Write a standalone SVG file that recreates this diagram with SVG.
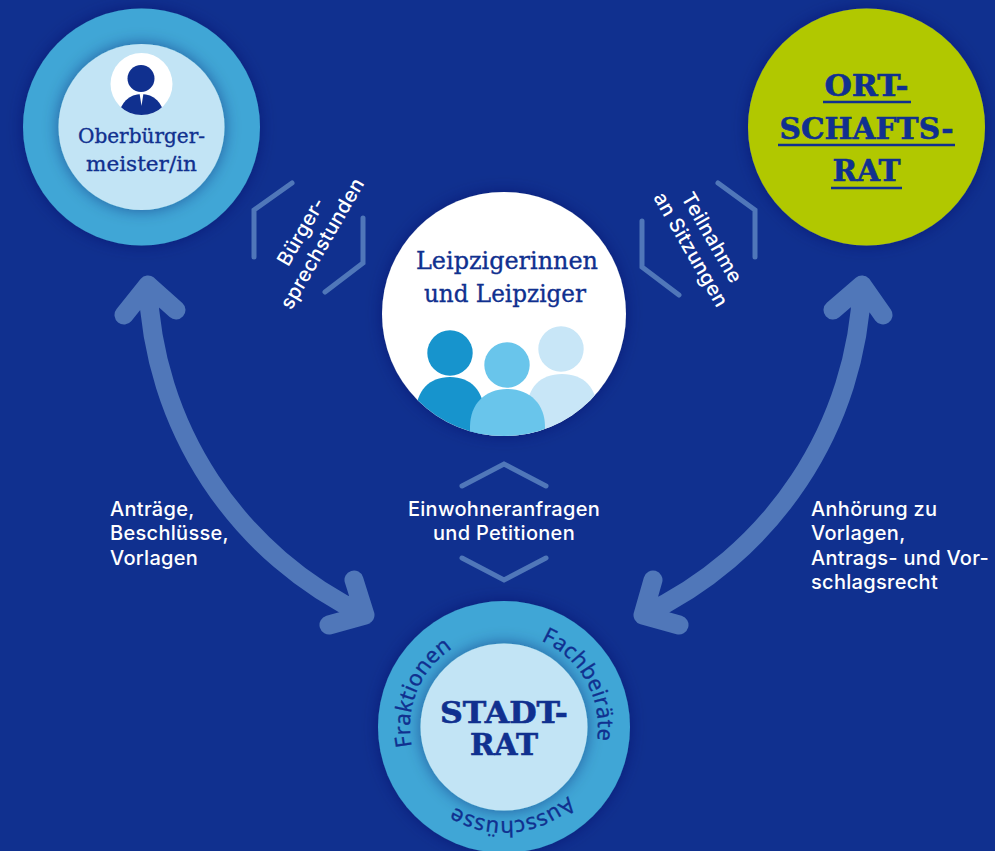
<svg xmlns="http://www.w3.org/2000/svg" width="995" height="851" viewBox="0 0 995 851">
<defs>
<style>
.serif{font-family:"DejaVu Serif","Liberation Serif",serif;fill:#10308f;text-anchor:middle}
.med{stroke:#10308f;stroke-width:.35px}
.heavy{font-weight:700;stroke:#10308f;stroke-width:.6px}
.lab{font-family:Inter,"Liberation Sans",Arial,sans-serif;font-size:20px;font-weight:500;letter-spacing:.3px;fill:#fff}
.mid{text-anchor:middle}
.ring{font-family:"Noto Sans","Open Sans",sans-serif;font-size:22px;fill:#10308f;stroke:#10308f;stroke-width:.3px;letter-spacing:.2px}
.br{fill:none;stroke:#5077b9;stroke-width:5;stroke-linecap:round;stroke-linejoin:miter}
.arr{fill:none;stroke:#5077b9;stroke-width:19;stroke-linecap:round;stroke-linejoin:round}
.ul{stroke:#10308f;stroke-width:2.5}
</style>
<filter id="sh" x="-30%" y="-30%" width="160%" height="160%"><feDropShadow dx="0" dy="0" stdDeviation="8" flood-color="#061a5c" flood-opacity=".45"/></filter>
<clipPath id="cpW"><circle cx="141.5" cy="84" r="31"/></clipPath>
<clipPath id="cpL"><circle cx="504" cy="314" r="122"/></clipPath>
<path id="ringp" d="M504 633A94 94 0 1 1 503.9 633"/>
</defs>
<rect width="995" height="851" fill="#10308f"/>
<g id="connectors">
<path class="arr" d="M148 285A380 380 0 0 0 365 615M124 315L148 285L176 310M329 625L365 615L354 580"/>
<path class="arr" d="M862 285A380 380 0 0 1 643 615M833 310L862 285L883 315M679 625L643 615L653 580"/>
<path class="br" d="M292 183L254 210V257M363 218V263L325 292"/>
<path class="br" d="M718 183L755 210V257M642 221V267L679 295"/>
<path class="br" d="M462 486L504 464L546 486M462 558L504 580L546 558"/>
</g>
<g id="label-buerger">
<text class="lab mid" transform="translate(307 235) rotate(-60)">Bürger-</text>
<text class="lab mid" transform="translate(328 247) rotate(-60)">sprechstunden</text>
</g>
<g id="label-teilnahme">
<text class="lab mid" transform="translate(706 241) rotate(60)">Teilnahme</text>
<text class="lab mid" transform="translate(685 253) rotate(60)">an Sitzungen</text>
</g>
<g id="label-antraege">
<text class="lab" x="110" y="516">Anträge,</text>
<text class="lab" x="110" y="540">Beschlüsse,</text>
<text class="lab" x="110" y="565">Vorlagen</text>
</g>
<g id="label-einwohner">
<text class="lab mid" x="504" y="516">Einwohneranfragen</text>
<text class="lab mid" x="504" y="540">und Petitionen</text>
</g>
<g id="label-anhoerung">
<text class="lab" x="811" y="516">Anhörung zu</text>
<text class="lab" x="811" y="540">Vorlagen,</text>
<text class="lab" x="811" y="565">Antrags- und Vor-</text>
<text class="lab" x="811" y="589">schlagsrecht</text>
</g>
<g id="node-ob">
<circle cx="141.5" cy="127" r="118.5" fill="#40a6d6" filter="url(#sh)"/>
<circle cx="141.5" cy="127" r="83" fill="#c2e4f5" filter="url(#sh)"/>
<circle cx="141.5" cy="84" r="31" fill="#fff"/>
<circle cx="141" cy="78.500" r="13.500" fill="#10308f"/>
<g clip-path="url(#cpW)"><ellipse cx="141.500" cy="115" rx="22" ry="21" fill="#10308f"/><path d="M139.500 93L141.500 106L143.500 93Z" fill="#fff"/></g>
<text class="serif med" x="141.500" y="143" font-size="21" textLength="127" lengthAdjust="spacingAndGlyphs">Oberbürger-</text>
<text class="serif med" x="141.500" y="171" font-size="21" textLength="111" lengthAdjust="spacingAndGlyphs">meister/in</text>
</g>
<g id="node-ort">
<circle cx="866.500" cy="127" r="118.500" fill="#b1c800" filter="url(#sh)"/>
<text class="serif heavy" x="866.500" y="96" font-size="30" textLength="84" lengthAdjust="spacingAndGlyphs">ORT-</text>
<line class="ul" x1="823" y1="102" x2="911" y2="102"/>
<text class="serif heavy" x="866.500" y="139" font-size="30" textLength="174" lengthAdjust="spacingAndGlyphs">SCHAFTS-</text>
<line class="ul" x1="778" y1="145" x2="955" y2="145"/>
<text class="serif heavy" x="866.500" y="181" font-size="30" textLength="68" lengthAdjust="spacingAndGlyphs">RAT</text>
<line class="ul" x1="831" y1="188" x2="902" y2="188"/>
</g>
<g id="node-leipzig">
<circle cx="504" cy="314" r="122" fill="#fff" filter="url(#sh)"/>
<text class="serif med" x="507" y="269" font-size="24" textLength="182" lengthAdjust="spacingAndGlyphs">Leipzigerinnen</text>
<text class="serif med" x="505" y="302" font-size="24" textLength="162" lengthAdjust="spacingAndGlyphs">und Leipziger</text>
<g clip-path="url(#cpL)">
<circle cx="561" cy="349" r="22.700" fill="#c8e6f7"/>
<path d="M527 445V410C527 388 540 374 562 374C584 374 597 388 597 410V445Z" fill="#c8e6f7"/>
<circle cx="450" cy="353" r="22.700" fill="#1794cd"/>
<path d="M416 445V413C416 391 429 377 450 377C471 377 484 391 484 413V445Z" fill="#1794cd"/>
<circle cx="507" cy="365" r="22.700" fill="#69c5eb"/>
<path d="M470 445V427C470 404 485 389 507 389C530 389 545 404 545 427V445Z" fill="#69c5eb"/>
</g>
</g>
<g id="node-stadtrat">
<circle cx="504" cy="727" r="126" fill="#40a6d6" filter="url(#sh)"/>
<circle cx="504" cy="727" r="83.500" fill="#c2e4f5" filter="url(#sh)"/>
<text class="serif heavy" x="504" y="723" font-size="30" textLength="128" lengthAdjust="spacingAndGlyphs">STADT-</text>
<text class="serif heavy" x="504" y="755" font-size="30" textLength="68" lengthAdjust="spacingAndGlyphs">RAT</text>
<text class="ring"><textPath href="#ringp" startOffset="423">Fraktionen</textPath></text>
<text class="ring"><textPath href="#ringp" startOffset="38">Fachbeiräte</textPath></text>
<text class="ring"><textPath href="#ringp" startOffset="225">Ausschüsse</textPath></text>
</g>
</svg>
